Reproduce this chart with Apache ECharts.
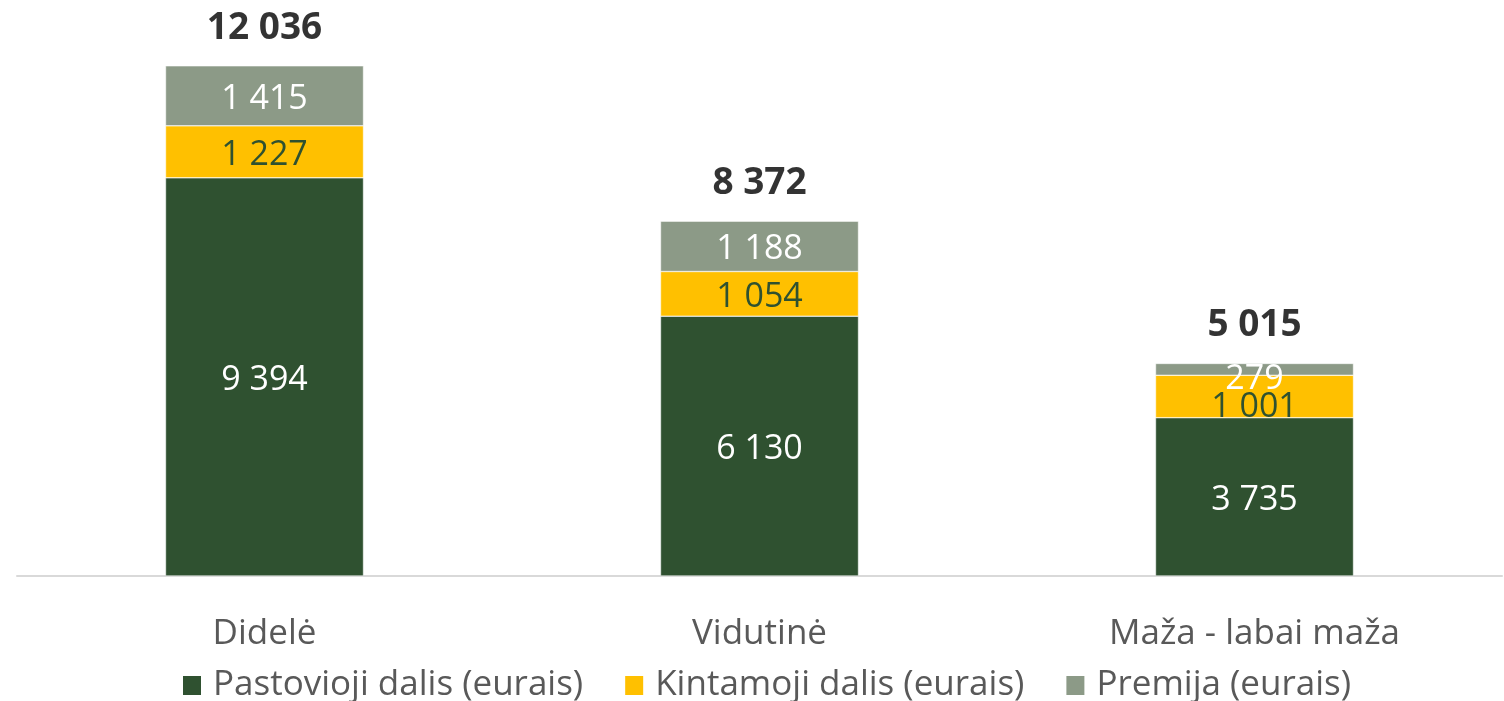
<!DOCTYPE html>
<html>
<head>
<meta charset="utf-8">
<script src="https://cdn.jsdelivr.net/npm/echarts@6/dist/echarts.min.js"></script>
<style>
  html, body { margin: 0; padding: 0; background: #fff; }
  #chart { width: 1504px; height: 701px; }
</style>
</head>
<body>
<div id="chart"></div>
<script>
// įmonių dydžio grupės
const categories = ['Didelė', 'Vidutinė', 'Maža - labai maža'];
const pastovioji = [9394, 6130, 3735];
const kintamoji = [1227, 1054, 1001];
const premija = [1415, 1188, 279];

const FONT = 'Open Sans';
const COLORS = ['#2F5130', '#FFC000', '#8C9A87'];

// tarpas kaip tūkstančių skyriklis
function fmt(v) {
  return String(v).replace(/\B(?=(\d{3})+(?!\d))/g, ' ');
}

const totals = categories.map((_, i) => pastovioji[i] + kintamoji[i] + premija[i]);

// plonų segmentų etiketės originale nustumtos žemyn
function withLabelShift(data, shifts) {
  return data.map((v, i) => shifts[i] ? { value: v, label: { offset: [0, shifts[i]] } } : v);
}

function stackSeries(name, data, color, labelColor) {
  return {
    name,
    type: 'bar',
    stack: 'sum',
    data,
    barWidth: '40%',
    itemStyle: { color, borderColor: '#fff', borderWidth: 0.5 },
    label: {
      show: true,
      position: 'inside',
      offset: [0, 3],
      color: labelColor,
      fontFamily: FONT,
      fontSize: 34,
      formatter: p => fmt(p.value)
    }
  };
}

const chart = echarts.init(document.getElementById('chart'));
chart.setOption({
  animation: false,
  color: COLORS,
  grid: { left: 17, right: 2, top: 25, bottom: 125 },
  legend: {
    bottom: -7,
    left: 176,
    icon: 'rect',
    itemWidth: 20,
    itemHeight: 21,
    itemGap: 40,
    data: ['Pastovioji dalis (eurais)', 'Kintamoji dalis (eurais)', 'Premija (eurais)'],
    textStyle: { fontFamily: FONT, fontSize: 35, color: '#595959', padding: [0, 0, 0, 6] }
  },
  xAxis: {
    type: 'category',
    data: categories,
    axisLine: { lineStyle: { color: '#D9D9D9', width: 2 } },
    axisTick: { show: false },
    axisLabel: { fontFamily: FONT, fontSize: 35, color: '#595959', margin: 41 }
  },
  yAxis: {
    type: 'value',
    min: 0,
    max: 13000,
    show: false,
    splitLine: { show: false }
  },
  series: [
    stackSeries('Pastovioji dalis (eurais)', pastovioji, COLORS[0], '#ffffff'),
    stackSeries('Kintamoji dalis (eurais)', withLabelShift(kintamoji, [0, 0, 11]), COLORS[1], '#2F5130'),
    stackSeries('Premija (eurais)', withLabelShift(premija, [0, 0, 10]), COLORS[2], '#ffffff'),
    {
      name: 'Iš viso',
      type: 'scatter',
      data: totals,
      symbolSize: 0,
      silent: true,
      label: {
        show: true,
        position: 'top',
        distance: 19,
        color: '#000',
        fontFamily: FONT,
        fontWeight: 'bold',
        fontSize: 37,
        formatter: p => fmt(p.value)
      }
    }
  ]
});
</script>
</body>
</html>
